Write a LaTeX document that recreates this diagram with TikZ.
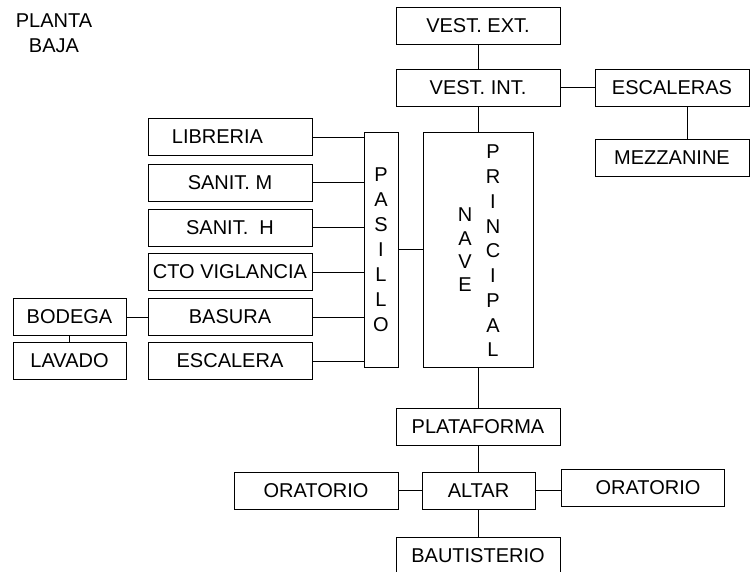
\documentclass[tikz,border=0pt]{standalone}
\usepackage{fontspec}
\setmainfont{Liberation Sans}
\usepackage{tikz}
\usetikzlibrary{calc,positioning}

\tikzset{
  sala/.style={draw, line width=0.8pt, minimum height=37pt, inner sep=0pt,
    font=\fontsize{20}{24}\selectfont},
  letras/.style={align=center, inner sep=0pt},
  enlace/.style={line width=0.8pt},
}

\begin{document}
\begin{tikzpicture}[x=1pt, y=-1pt]
\useasboundingbox (0,0) rectangle (750,572);
% --- titulo ---
\node[letras, font=\fontsize{20}{25}\selectfont] (titulo) at (54,33.5) {PLANTA\\BAJA};

% --- acceso ---
\node[sala, minimum width=164pt] (vext) at (478,26) {VEST. EXT.};
\node[sala, minimum width=164pt] (vint) at (478,87.5) {VEST. INT.};
\node[sala, minimum width=154pt] (escs) at (672,87.5) {ESCALERAS};
\node[sala, minimum width=154pt] (mezz) at (672,157.5) {MEZZANINE};

% --- nave y pasillo ---
\node[sala, minimum width=110pt, minimum height=235pt] (nave) at (478,249.5) {};
\node[letras, font=\fontsize{20}{23.3}\selectfont] (naveA) at (465,250) {N\\A\\V\\E};
\node[letras, font=\fontsize{20}{24.75}\selectfont] (naveB) at (493,251) {P\\R\\I\\N\\C\\I\\P\\A\\L};
\node[sala, minimum width=34pt, minimum height=235pt, align=center,
  font=\fontsize{20}{25}\selectfont] (pasillo) at (381,249.5) {P\\A\\S\\I\\L\\L\\O};

% --- servicios ---
\node[sala, minimum width=164pt] (libr) at (230,137) {LIBRERIA\hspace*{25pt}};
\node[sala, minimum width=164pt] (sanm) at (230,182.5) {SANIT. M};
\node[sala, minimum width=164pt] (sanh) at (230,227.5) {SANIT.\ \ H};
\node[sala, minimum width=164pt] (vigil) at (230,272) {CTO VIGLANCIA};
\node[sala, minimum width=164pt] (basura) at (230,317) {BASURA};
\node[sala, minimum width=164pt] (escl) at (230,361) {ESCALERA};
\node[sala, minimum width=113pt] (bodega) at (69.5,317) {BODEGA};
\node[sala, minimum width=113pt] (lavado) at (69.5,361) {LAVADO};

% --- presbiterio ---
\node[sala, minimum width=164pt] (plat) at (478,426.5) {PLATAFORMA};
\node[sala, minimum width=113pt] (altar) at (478.5,490.5) {ALTAR};
\node[sala, minimum width=164pt] (oraI) at (316,490.5) {ORATORIO};
\node[sala, minimum width=163pt] (oraD) at (642.5,487.5) {\hspace*{11pt}ORATORIO};
\node[sala, minimum width=164pt] (baut) at (478,555.5) {BAUTISTERIO};

% --- enlaces ---
\draw[enlace] (vext.south) -- (vint.north);
\draw[enlace] (vint.east) -- (escs.west);
\draw[enlace] ([xshift=15pt]escs.south) -- ([xshift=15pt]mezz.north);
\draw[enlace] (vint.south) -- (nave.north);
\draw[enlace] (pasillo.east) -- (pasillo.east -| nave.west);
\foreach \s in {libr,sanm,sanh,vigil,basura,escl}
  \draw[enlace] (\s.east) -- (\s.east -| pasillo.west);
\draw[enlace] (bodega.east) -- (basura.west);
\draw[enlace] (bodega.south) -- (lavado.north);
\draw[enlace] (nave.south) -- (plat.north);
\draw[enlace] (plat.south) -- (plat.south |- altar.north);
\draw[enlace] (oraI.east) -- (altar.west);
\draw[enlace] (altar.east) -- (altar.east -| oraD.west);
\draw[enlace] (altar.south) -- (altar.south |- baut.north);
\end{tikzpicture}
\end{document}
